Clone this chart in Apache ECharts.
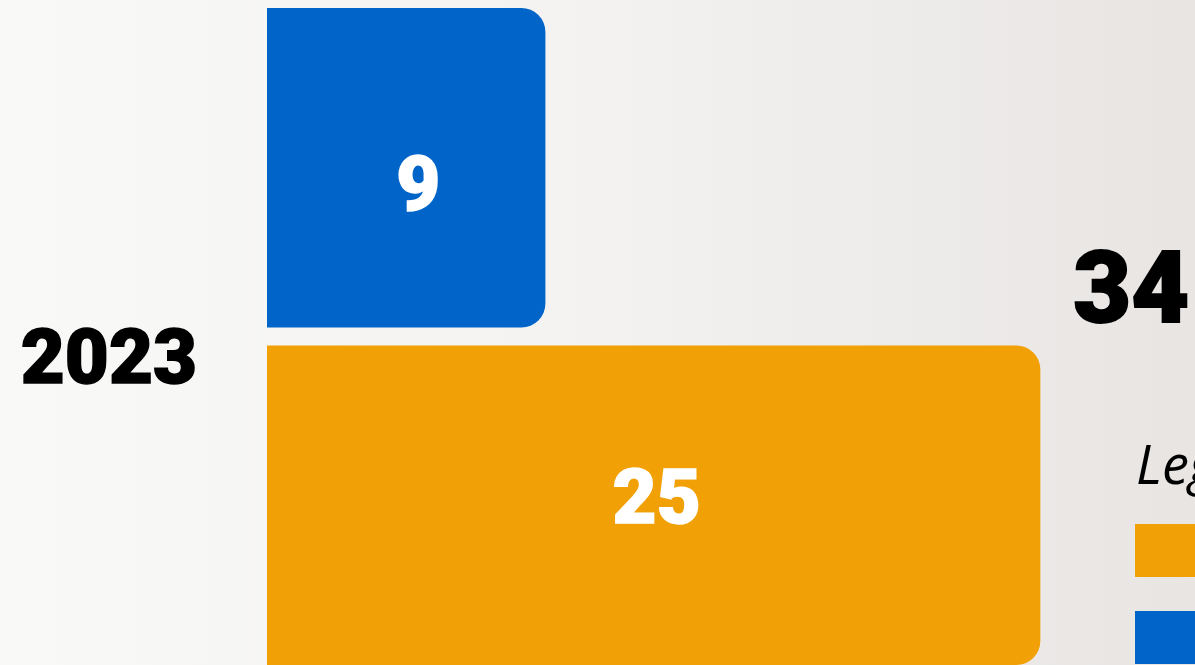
<!DOCTYPE html>
<html>
<head>
<meta charset="utf-8">
<script src="https://cdn.jsdelivr.net/npm/echarts@6/dist/echarts.min.js"></script>
<style>
  html, body { margin: 0; padding: 0; }
  #chart { width: 1195px; height: 665px; }
</style>
</head>
<body>
<div id="chart"></div>
<script>
// data
const years = ["2023"];
const seriesNames = ["Group A", "Group B"]; // orange, blue
const orangeValues = [25];
const blueValues = [9];
const totals = [34];

const heavyFont = "Roboto";
const chart = echarts.init(document.getElementById("chart"));

const option = {
  backgroundColor: {
    type: "linear", x: 0, y: 0, x2: 1, y2: 0,
    colorStops: [
      { offset: 0, color: "#f9f9f8" },
      { offset: 0.5, color: "#f3f2f1" },
      { offset: 1, color: "#e8e5e3" },
    ],
  },
  title: {
    text: "Legend",
    left: 1131,
    top: 437,
    textStyle: {
      fontFamily: "Open Sans",
      fontStyle: "italic",
      fontWeight: "normal",
      fontSize: 54,
      color: "#000",
    },
  },
  legend: {
    orient: "vertical",
    left: 1135,
    top: 524,
    height: 300,
    padding: 0,
    itemWidth: 100,
    itemHeight: 53,
    itemGap: 34,
    icon: "rect",
    textStyle: { fontSize: 40, color: "#000" },
    data: seriesNames,
  },
  grid: {
    left: 267,
    width: 930,
    top: 8,
    height: 658,
  },
  xAxis: {
    type: "value",
    min: 0,
    max: 30,
    show: false,
  },
  yAxis: {
    type: "category",
    data: years,
    axisLine: { show: false },
    axisTick: { show: false },
    splitLine: { show: false },
    axisLabel: {
      margin: 70,
      verticalAlign: "top",
      lineHeight: 54,
      fontFamily: heavyFont,
      fontWeight: 900,
      fontSize: 76,
      color: "#000",
      textBorderColor: "#000",
      textBorderWidth: 1.5,
    },
  },
  series: [
    {
      name: seriesNames[1],
      type: "bar",
      data: blueValues,
      barWidth: 320,
      barGap: "5.6%",
      itemStyle: { color: "#0164c9", borderRadius: [0, 24, 24, 0] },
      label: {
        show: true,
        position: "inside",
        offset: [12, 23],
        fontFamily: heavyFont,
        fontWeight: 900,
        fontSize: 76,
        color: "#fff",
        textBorderColor: "#fff",
        textBorderWidth: 1.5,
      },
    },
    {
      name: seriesNames[0],
      type: "bar",
      data: orangeValues,
      barWidth: 320,
      itemStyle: { color: "#f1a006", borderRadius: [0, 24, 24, 0] },
      label: {
        show: true,
        position: "inside",
        offset: [3, -1],
        fontFamily: heavyFont,
        fontWeight: 900,
        fontSize: 76,
        color: "#fff",
        textBorderColor: "#fff",
        textBorderWidth: 1.5,
      },
      markPoint: {
        symbol: "rect",
        symbolSize: 0,
        data: [{ coord: [orangeValues[0], years[0]], value: totals[0] }],
        label: {
          show: true,
          position: "right",
          distance: 33,
          offset: [0, -208],
          formatter: "{c}",
          fontFamily: heavyFont,
          fontWeight: 900,
          fontSize: 100,
          color: "#000",
          textBorderColor: "#000",
          textBorderWidth: 2,
        },
      },
    },
  ],
};

chart.setOption(option);
</script>
</body>
</html>
